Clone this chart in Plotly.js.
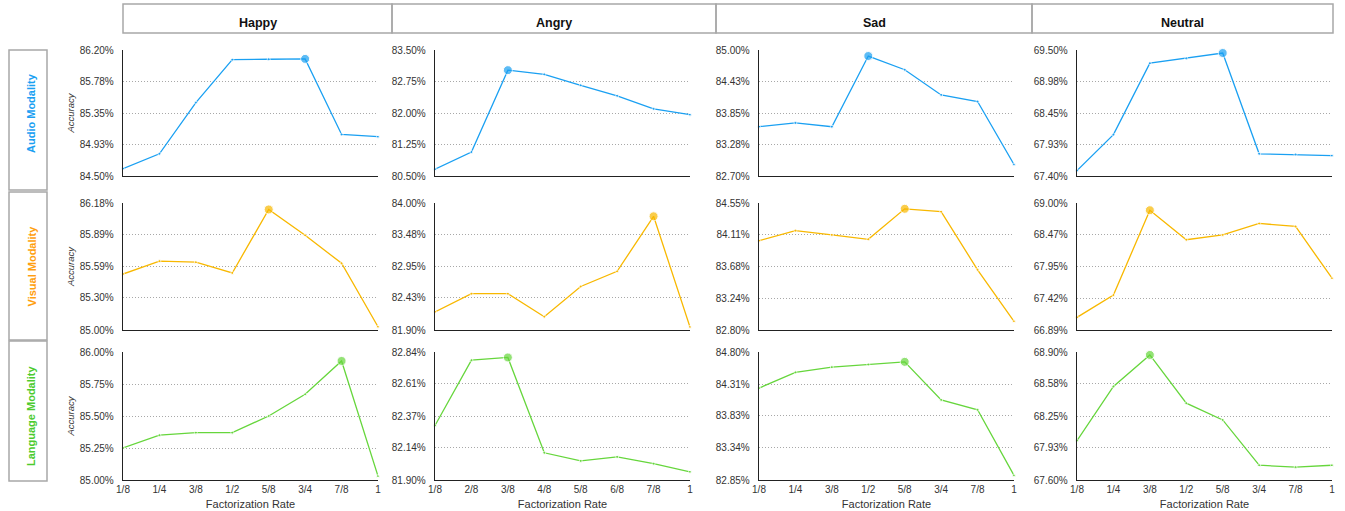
<!DOCTYPE html>
<html>
<head>
<meta charset="utf-8">
<script src="https://cdn.plot.ly/plotly-3.0.1.min.js"></script>
<style>html,body{margin:0;padding:0;background:#fff;}#chart{width:1345px;height:511px;}</style>
</head>
<body>
<div id="chart"></div>
<script>
// ---------- data ----------
const emotions = ['Happy', 'Angry', 'Sad', 'Neutral'];
const modalities = ['Audio Modality', 'Visual Modality', 'Language Modality'];
const rateLabels = ['1/8', '1/4', '3/8', '1/2', '5/8', '3/4', '7/8', '1'];
const rateLabelsAngry = ['1/8', '2/8', '3/8', '4/8', '5/8', '6/8', '7/8', '1'];

const happyAudio    = [84.60, 84.80, 85.49, 86.07, 86.075, 86.08, 85.06, 85.03];
const angryAudio    = [80.66, 81.07, 83.02, 82.92, 82.66, 82.41, 82.10, 81.96];
const sadAudio      = [83.60, 83.67, 83.60, 84.89, 84.64, 84.18, 84.06, 82.91];
const neutralAudio  = [67.49, 68.09, 69.28, 69.36, 69.45, 67.77, 67.76, 67.74];

const happyVisual   = [85.52, 85.64, 85.63, 85.53, 86.12, 85.88, 85.62, 85.03];
const angryVisual   = [82.20, 82.50, 82.50, 82.12, 82.62, 82.87, 83.78, 81.95];
const sadVisual     = [84.03, 84.17, 84.11, 84.05, 84.47, 84.43, 83.63, 82.92];
const neutralVisual = [67.10, 67.47, 68.88, 68.39, 68.47, 68.66, 68.61, 67.75];

const happyLanguage   = [85.25, 85.35, 85.37, 85.37, 85.50, 85.67, 85.93, 85.03];
const angryLanguage   = [82.30, 82.78, 82.80, 82.10, 82.04, 82.07, 82.02, 81.96];
const sadLanguage     = [84.25, 84.49, 84.57, 84.61, 84.65, 84.07, 83.92, 82.92];
const neutralLanguage = [68.00, 68.55, 68.87, 68.38, 68.21, 67.75, 67.73, 67.75];

// y tick labels (bottom to top)
const happyAudioTicks    = ['84.50%', '84.93%', '85.35%', '85.78%', '86.20%'];
const angryAudioTicks    = ['80.50%', '81.25%', '82.00%', '82.75%', '83.50%'];
const sadAudioTicks      = ['82.70%', '83.28%', '83.85%', '84.43%', '85.00%'];
const neutralAudioTicks  = ['67.40%', '67.93%', '68.45%', '68.98%', '69.50%'];
const happyVisualTicks   = ['85.00%', '85.30%', '85.59%', '85.89%', '86.18%'];
const angryVisualTicks   = ['81.90%', '82.43%', '82.95%', '83.48%', '84.00%'];
const sadVisualTicks     = ['82.80%', '83.24%', '83.68%', '84.11%', '84.55%'];
const neutralVisualTicks = ['66.89%', '67.42%', '67.95%', '68.47%', '69.00%'];
const happyLanguageTicks   = ['85.00%', '85.25%', '85.50%', '85.75%', '86.00%'];
const angryLanguageTicks   = ['81.90%', '82.14%', '82.37%', '82.61%', '82.84%'];
const sadLanguageTicks     = ['82.85%', '83.34%', '83.83%', '84.31%', '84.80%'];
const neutralLanguageTicks = ['67.60%', '67.93%', '68.25%', '68.58%', '68.90%'];

// ---------- assembly ----------
const seriesGrid = [
  [happyAudio, angryAudio, sadAudio, neutralAudio],
  [happyVisual, angryVisual, sadVisual, neutralVisual],
  [happyLanguage, angryLanguage, sadLanguage, neutralLanguage]
];
const tickGrid = [
  [happyAudioTicks, angryAudioTicks, sadAudioTicks, neutralAudioTicks],
  [happyVisualTicks, angryVisualTicks, sadVisualTicks, neutralVisualTicks],
  [happyLanguageTicks, angryLanguageTicks, sadLanguageTicks, neutralLanguageTicks]
];
const lineColors = ['#1AA0F2', '#F8B800', '#66D63C'];
const labelColors = ['#1AA0F2', '#FF9F10', '#4CCB2E'];

const W = 1345, H = 511;
const px = x => x / W;
const py = y => 1 - y / H;
const colX = [[123, 378], [435, 690], [759, 1014], [1077, 1332]];
const rowY = [[50, 176], [203, 330], [352, 480]];
const headerX = [[123, 392], [392, 716], [716, 1032], [1032, 1333]];
const rowBoxY = [[50, 190], [192, 340], [341, 481]];

const FONT = 'Liberation Sans, Arial, Helvetica, sans-serif';
const traces = [];
const layout = {
  width: W, height: H,
  margin: {l: 0, r: 0, t: 0, b: 0},
  paper_bgcolor: '#fff', plot_bgcolor: 'rgba(0,0,0,0)',
  showlegend: false,
  font: {family: FONT, size: 10, color: '#333'},
  shapes: [], annotations: []
};

const xIdx = rateLabels.map((_, i) => i);

for (let r = 0; r < 3; r++) {
  for (let c = 0; c < 4; c++) {
    const n = r * 4 + c + 1;
    const sfx = n === 1 ? '' : String(n);
    const vals = seriesGrid[r][c];
    const maxI = vals.indexOf(Math.max(...vals));
    const ticks = tickGrid[r][c];
    const tv = ticks.map(t => parseFloat(t));
    const labels = c === 1 ? rateLabelsAngry : rateLabels;

    traces.push({
      type: 'scatter', mode: 'lines+markers',
      x: xIdx, y: vals,
      xaxis: 'x' + sfx, yaxis: 'y' + sfx,
      line: {color: lineColors[r], width: 1.3},
      marker: {color: lineColors[r], size: vals.map((v, i) => i === maxI ? 9 : 3)},
      cliponaxis: false,
      hoverinfo: 'skip'
    });

    layout['xaxis' + sfx] = {
      domain: [px(colX[c][0]), px(colX[c][1])],
      anchor: 'y' + sfx,
      range: [0, 7],
      tickvals: xIdx, ticktext: labels,
      showticklabels: r === 2,
      tickfont: {size: 10, color: '#333'},
      showline: true, linecolor: '#222', linewidth: 1.3,
      showgrid: false, zeroline: false, ticks: '',
      title: r === 2 ? {text: 'Factorization Rate', font: {size: 11, color: '#333'}, standoff: 6} : {text: ''}
    };
    layout['yaxis' + sfx] = {
      domain: [py(rowY[r][1]), py(rowY[r][0])],
      anchor: 'x' + sfx,
      range: [tv[0], tv[tv.length - 1]],
      tickvals: tv, ticktext: ticks,
      tickfont: {size: 10, color: '#333'},
      ticklabelstandoff: 6,
      showline: true, linecolor: '#222', linewidth: 1.3,
      showgrid: true, gridcolor: '#a8a8a8', griddash: '1px,2px', gridwidth: 1,
      zeroline: false, ticks: '',
      title: c === 0 ? {text: 'Accuracy', font: {size: 9.5, color: '#333', style: 'italic'}, standoff: 3} : {text: ''}
    };
  }
}

// column headers
for (let c = 0; c < 4; c++) {
  layout.shapes.push({
    type: 'rect', xref: 'paper', yref: 'paper',
    x0: px(headerX[c][0]), x1: px(headerX[c][1]), y0: py(33), y1: py(4),
    line: {color: '#a8a8a8', width: 1.5}, fillcolor: 'rgba(0,0,0,0)'
  });
  layout.annotations.push({
    xref: 'paper', yref: 'paper',
    x: px((headerX[c][0] + headerX[c][1]) / 2), y: py(23),
    text: '<b>' + emotions[c] + '</b>', showarrow: false,
    font: {size: 12.5, color: '#111'}, xanchor: 'center', yanchor: 'middle'
  });
}
// row labels
for (let r = 0; r < 3; r++) {
  layout.shapes.push({
    type: 'rect', xref: 'paper', yref: 'paper',
    x0: px(9), x1: px(47), y0: py(rowBoxY[r][1]), y1: py(rowBoxY[r][0]),
    line: {color: '#a8a8a8', width: 1.5}, fillcolor: 'rgba(0,0,0,0)'
  });
  layout.annotations.push({
    xref: 'paper', yref: 'paper',
    x: px(31), y: py((rowY[r][0] + rowY[r][1]) / 2),
    text: '<b>' + modalities[r] + '</b>', showarrow: false, textangle: -90,
    font: {size: 11, color: labelColors[r]}, xanchor: 'center', yanchor: 'middle'
  });
}

Plotly.newPlot('chart', traces, layout, {staticPlot: true, displayModeBar: false});
</script>
</body>
</html>
